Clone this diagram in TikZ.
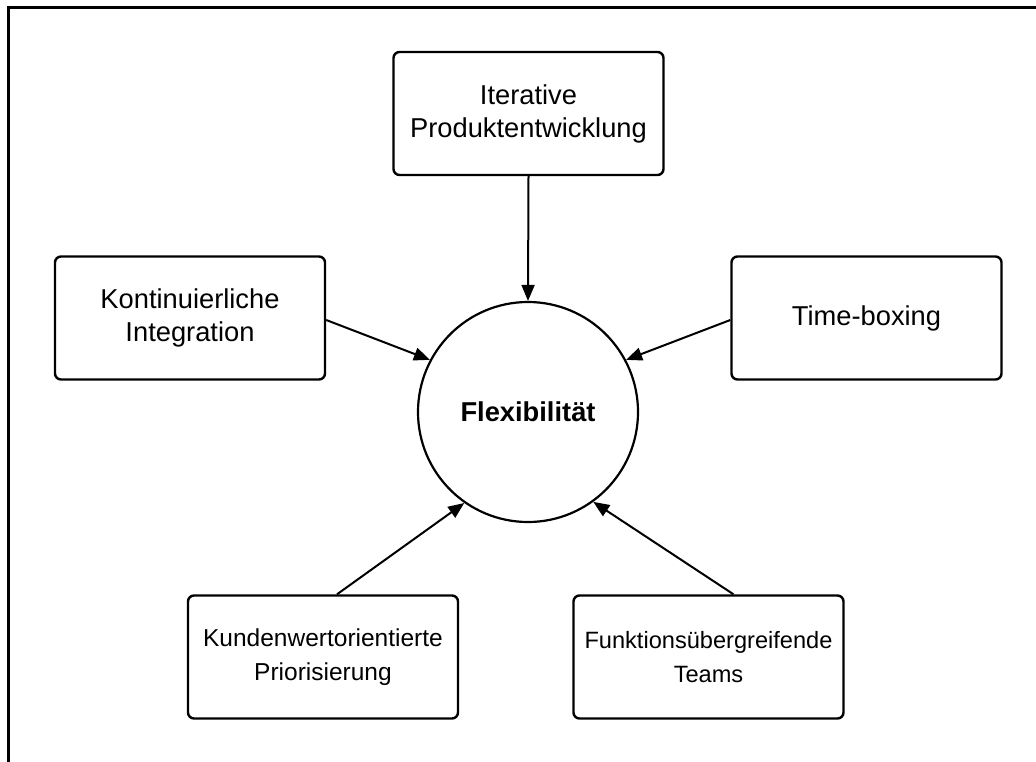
\documentclass[tikz,border=0pt]{standalone}
\usepackage{fontspec}
\setmainfont{Liberation Sans}
\usetikzlibrary{arrows.meta,calc}
\begin{document}
\begin{tikzpicture}[x=1pt,y=-1pt,
  box/.style={draw,line width=2.4pt,rounded corners=6pt,minimum width=270pt,minimum height=123pt,align=center,font=\fontsize{27.3}{33}\selectfont},
  hub/.style={draw,circle,line width=2.2pt,minimum size=220pt,font=\bfseries\fontsize{27.3}{33}\selectfont},
  arr/.style={line width=2pt,-{Triangle[length=16pt,width=13pt]}}]
\useasboundingbox (0,0) rectangle (1036,761);
\draw[line width=3pt] (8.5,770) -- (8.5,7.5) -- (1045,7.5);
\node[hub] (c) at (528,412) {Flexibilität};
\node[box] (top) at (528.5,113.5) {Iterative\\Produktentwicklung};
\node[box] (left) at (190,318) {Kontinuierliche\\Integration};
\node[box] (right) at (866.5,318) {Time-boxing};
\node[box,font=\fontsize{24.5}{34}\selectfont] (bl) at (323,657) {Kundenwertorientierte\\Priorisierung};
\node[box,font=\fontsize{23.6}{34}\selectfont] (br) at (708.5,657) {Funktionsübergreifende\\Teams};
\draw[arr] (top.south) -- (c.north);
\draw[arr] ($(left.east)+(0,2)$) -- (c.152);
\draw[arr] ($(right.west)+(0,2)$) -- (c.28.6);
\draw[arr] ($(bl.north)+(14,0)$) -- (c.235);
\draw[arr] ($(br.north)+(25,0)$) -- (c.306);
\end{tikzpicture}
\end{document}
